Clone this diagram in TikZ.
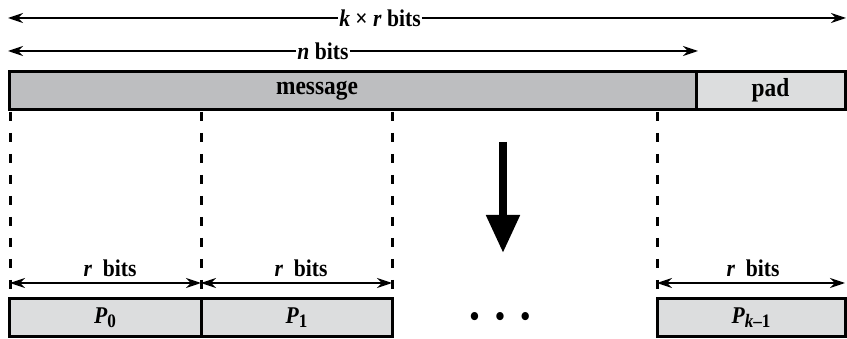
\documentclass[tikz,border=0pt]{standalone}
\usepackage{fontspec}
\setmainfont{Liberation Serif}[FakeStretch=0.9]
\usepackage{xcolor}
\usetikzlibrary{arrows.meta,positioning}
\definecolor{msggray}{HTML}{BDBEC0}
\definecolor{padgray}{HTML}{DCDDDE}
\newcommand\lowsub[1]{\raisebox{-0.35ex}{\fontsize{19}{19}\selectfont #1}}

\begin{document}
\begin{tikzpicture}[
  x=1pt, y=-1pt,
  font=\fontsize{24}{26}\selectfont\bfseries,
  bar/.style={draw, line width=3pt, inner sep=0pt, minimum height=38pt},
  blk/.style={bar, fill=padgray},
  cut/.style={line width=3pt, dash pattern=on 9pt off 12pt},
  dim/.style={-{Stealth[length=15pt,width=10pt]}, line width=1.5pt},
  dimb/.style={dim, {Stealth[length=15pt,width=10pt]}-{Stealth[length=15pt,width=10pt]}},
  lbl/.style={fill=white, inner sep=1pt},
  big/.style={font=\fontsize{26}{28}\selectfont\bfseries}
]
\useasboundingbox (0,0) rectangle (847,339);
% length arrows on top
\node[lbl] (kr) at (380,18) {\textit{k} × \textit{r} bits};
\coordinate (krL) at (8,18);
\coordinate (krR) at (846,18);
\draw[dim] (kr) -- (krL);
\draw[dim] (kr) -- (krR);
\node[lbl] (nb) at (323,51) {\textit{n} bits};
\coordinate (nbL) at (8,51);
\coordinate (nbR) at (698,51);
\draw[dim] (nb) -- (nbL);
\draw[dim] (nb) -- (nbR);
% message and pad
\node[bar, fill=msggray, minimum width=687pt] (msg) at (352.5,90.5) {};
\node[big] (msgl) at (317,90.5) {message};
\node[bar, big, fill=padgray, minimum width=149pt] (pad) at (770.5,90.5) {pad};
% blocks
\node[blk, minimum width=192pt] (p0) at (105,318) {\textit{P}\lowsub{0}};
\node[blk, minimum width=191pt] (p1) at (296.5,318) {\textit{P}\lowsub{1}};
\node[blk, minimum width=188pt] (pk) at (751,318) {\textit{P}\lowsub{\textit{k}–1}};
\node[font=\fontsize{30}{30}\selectfont\bfseries] (dots) at (500,320) {\textbullet\hspace{16pt}\textbullet\hspace{16pt}\textbullet};
% cut lines
\coordinate (c0t) at (10,112);  \coordinate (c0b) at (10,291);
\coordinate (c1t) at (201,112); \coordinate (c1b) at (201,291);
\coordinate (c2t) at (392,112); \coordinate (c2b) at (392,291);
\coordinate (c3t) at (657,112); \coordinate (c3b) at (657,291);
\draw[cut] (c0t) -- (c0b);
\draw[cut] (c1t) -- (c1b);
\draw[cut] (c2t) -- (c2b);
\draw[cut] (c3t) -- (c3b);
% r bits arrows
\coordinate (r0) at (10,283);
\coordinate (r1) at (201,283);
\coordinate (r2) at (392,283);
\coordinate (r3) at (657,283);
\coordinate (r4) at (845,283);
\draw[dimb] (r0) -- (r1);
\draw[dimb] (r1) -- (r2);
\draw[dimb] (r3) -- (r4);
\node (r0l) at (110,268) {\textit{r}\ \ bits};
\node (r1l) at (301,268) {\textit{r}\ \ bits};
\node (rkl) at (753,268) {\textit{r}\ \ bits};
% big arrow down
\coordinate (down1) at (503,142);
\coordinate (down2) at (503,253);
\draw[line width=8pt, -{Triangle[width=32pt,length=38pt]}] (down1) -- (down2);
\end{tikzpicture}
\end{document}
